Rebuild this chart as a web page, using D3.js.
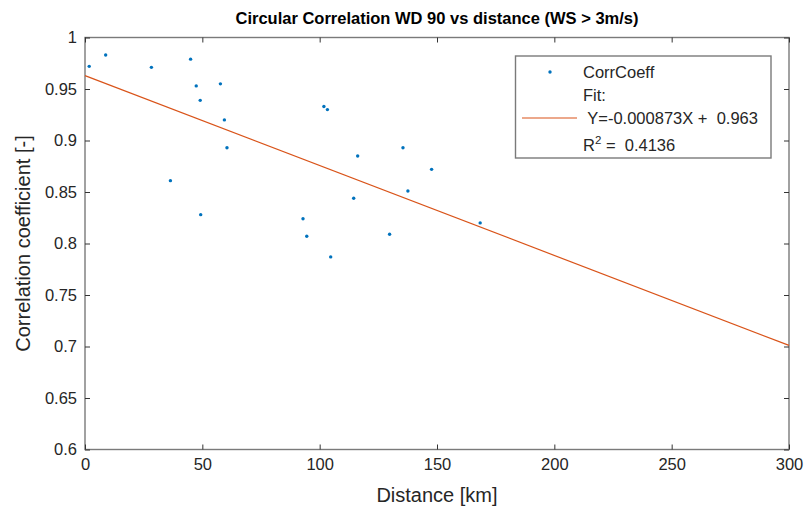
<!DOCTYPE html>
<html><head><meta charset="utf-8">
<script src="https://cdn.jsdelivr.net/npm/d3@7"></script>
<style>body{margin:0;background:#fff;}svg{display:block;font-family:"Liberation Sans",Arial,sans-serif;}</style>
</head><body><svg id="c" width="811" height="512"></svg>
<script>
const distance = [1.8, 8.8, 28.3, 45.0, 47.4, 49.1, 57.7, 59.4, 60.5, 36.4, 49.3, 101.8, 103.3, 116.2, 135.5, 147.7, 137.6, 114.5, 92.9, 94.5, 129.8, 104.7, 168.4];
const corrCoeff = [0.972, 0.983, 0.971, 0.979, 0.953, 0.939, 0.955, 0.920, 0.893, 0.861, 0.828, 0.933, 0.930, 0.885, 0.893, 0.872, 0.851, 0.844, 0.824, 0.807, 0.809, 0.787, 0.820];
const fitSlope = -0.000873;
const fitIntercept = 0.963;
const rSquared = "0.4136";
const xTicks = [0, 50, 100, 150, 200, 250, 300];
const yTicks = [0.6, 0.65, 0.7, 0.75, 0.8, 0.85, 0.9, 0.95, 1];
const fitX = [0, 300];

const svg = d3.select("#c");
const L = 85, R = 789, T = 37.5, B = 449.5;
const x = d3.scaleLinear().domain([0, 300]).range([L, R]);
const y = d3.scaleLinear().domain([0.6, 1]).range([B, T]);
const axisColor = "#7a7a7a", textColor = "#262626";
const tickFont = "16.5px";

svg.append("rect").attr("x", L).attr("y", T).attr("width", R - L).attr("height", B - T)
  .attr("fill", "#fff").attr("stroke", axisColor).attr("stroke-width", 1.4);

const fmt = d => d3.format("")(d);
const gx = svg.append("g").attr("transform", `translate(0,${B})`)
  .call(d3.axisBottom(x).tickValues(xTicks).tickSize(-5).tickPadding(9).tickFormat(fmt));
const gxt = svg.append("g").attr("transform", `translate(0,${T})`)
  .call(d3.axisTop(x).tickValues(xTicks).tickSize(-5).tickFormat(""));
const gy = svg.append("g").attr("transform", `translate(${L},0)`)
  .call(d3.axisLeft(y).tickValues(yTicks).tickSize(-5).tickPadding(8).tickFormat(fmt));
const gyr = svg.append("g").attr("transform", `translate(${R},0)`)
  .call(d3.axisRight(y).tickValues(yTicks).tickSize(-5).tickFormat(""));
[gx, gxt, gy, gyr].forEach(g => {
  g.select(".domain").remove();
  g.selectAll(".tick line").attr("stroke", "#333").attr("stroke-width", 1);
  g.selectAll(".tick text").attr("fill", textColor).style("font-size", tickFont).style("font-family", "'Liberation Sans',Arial,sans-serif");
});

svg.append("path")
  .datum(fitX.map(d => [d, fitIntercept + fitSlope * d]))
  .attr("d", d3.line().x(d => x(d[0])).y(d => y(d[1])))
  .attr("fill", "none").attr("stroke", "#D95319").attr("stroke-width", 1.2);

svg.append("g").selectAll("circle").data(distance.map((d, i) => [d, corrCoeff[i]]))
  .join("circle").attr("cx", d => x(d[0])).attr("cy", d => y(d[1])).attr("r", 1.7)
  .attr("fill", "#0072BD");

svg.append("text").attr("x", (L + R) / 2).attr("y", 24).attr("text-anchor", "middle")
  .attr("fill", "#000").style("font-size", "16.5px").style("font-weight", "bold")
  .text("Circular Correlation WD 90 vs distance (WS > 3m/s)");
svg.append("text").attr("x", (L + R) / 2).attr("y", 502).attr("text-anchor", "middle")
  .attr("fill", textColor).style("font-size", "20px").text("Distance [km]");
svg.append("text").attr("transform", `translate(30,${(T + B) / 2}) rotate(-90)`).attr("text-anchor", "middle")
  .attr("fill", textColor).style("font-size", "20px").text("Correlation coefficient [-]");

const lg = svg.append("g");
lg.append("rect").attr("x", 515.5).attr("y", 56).attr("width", 255.5).attr("height", 102)
  .attr("fill", "#fff").attr("stroke", axisColor).attr("stroke-width", 1.4);
lg.append("circle").attr("cx", 550).attr("cy", 72).attr("r", 1.7).attr("fill", "#0072BD");
lg.append("line").attr("x1", 522).attr("x2", 577).attr("y1", 118).attr("y2", 118)
  .attr("stroke", "#D95319").attr("stroke-width", 1.2);
const ls = "16.5px";
lg.append("text").attr("x", 583).attr("y", 78).attr("fill", textColor).style("font-size", ls).text("CorrCoeff");
lg.append("text").attr("x", 583).attr("y", 101).attr("fill", textColor).style("font-size", ls).text("Fit:");
lg.append("text").attr("x", 583).attr("y", 124).attr("fill", textColor).style("font-size", ls).attr("xml:space", "preserve")
  .text(` Y=${fitSlope}X +  ${fitIntercept}`);
const rt = lg.append("text").attr("x", 583).attr("y", 151).attr("fill", textColor).style("font-size", ls).attr("xml:space", "preserve");
rt.append("tspan").text("R");
rt.append("tspan").attr("dy", -7).style("font-size", "11.5px").text("2");
rt.append("tspan").attr("dy", 7).text(` =  ${rSquared}`);
</script></body></html>
